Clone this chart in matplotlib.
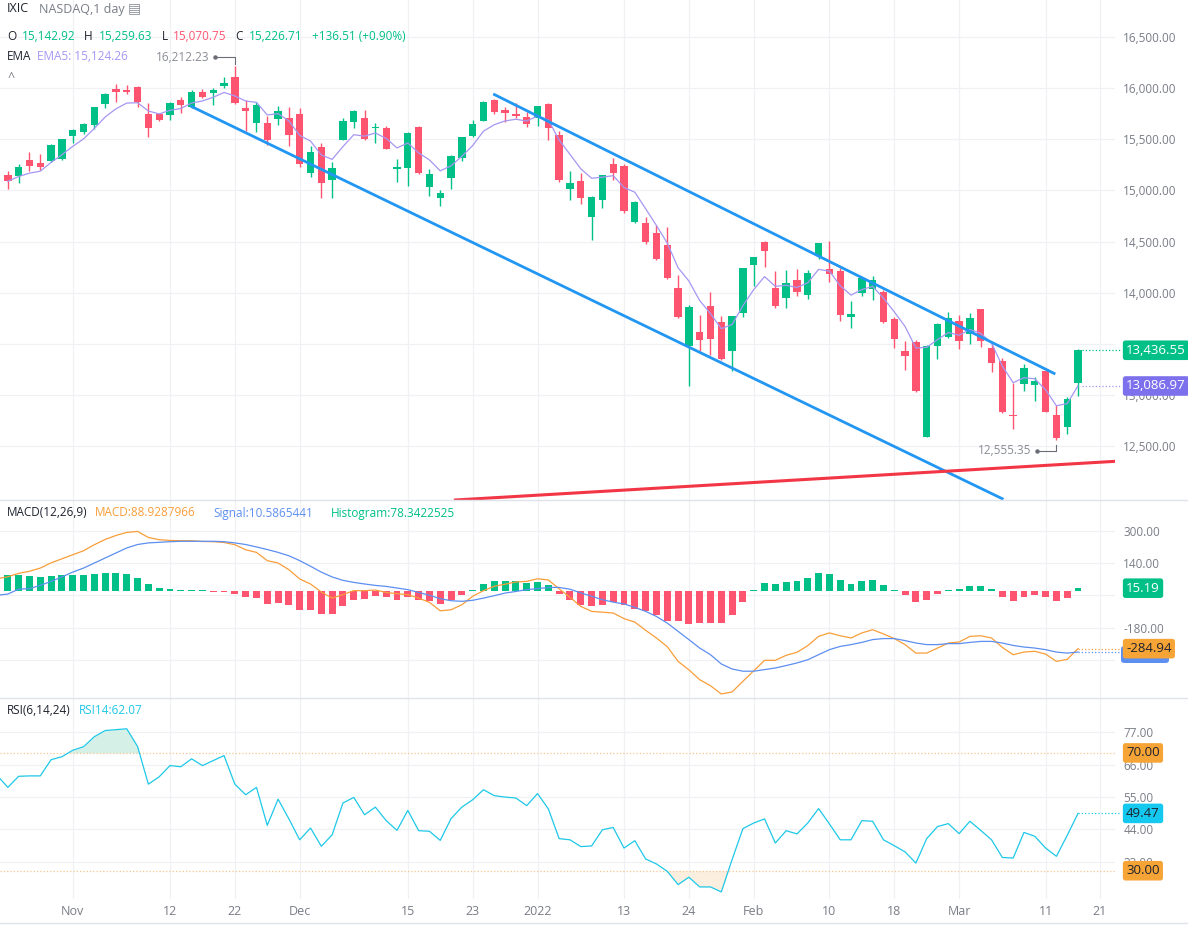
import numpy as np
import pandas as pd
import matplotlib
matplotlib.use("Agg")
import matplotlib.pyplot as plt
from matplotlib.lines import Line2D
from matplotlib.patches import FancyBboxPatch

plt.rcParams['font.family'] = ['Open Sans', 'DejaVu Sans']

# daily candles, one per trading day, Oct 22 2021 .. Mar 16 2022
opens = [15150, 15142.92, 15300, 15270, 15290, 15310, 15530, 15575, 15640, 15845,
         15990, 15985, 16010, 15745, 15745, 15737, 15884, 15818, 15962, 15955,
         16021, 16106, 15803, 15662, 15659, 15698, 15705, 15744, 15173, 15424,
         15101, 15493, 15666, 15708, 15607, 15607, 15206, 15222, 15620, 15030,
         14922, 15124, 15314, 15535, 15681, 15884, 15786, 15747, 15715, 15705,
         15842, 15542, 15013, 15092, 14743, 14906, 15258, 15241, 14694, 14684,
         14586, 14466, 14048, 13478, 13615, 13872, 13710, 13429, 13804, 14270,
         14495, 14045, 13950, 14123, 13977, 14358, 14228, 14211, 13765, 13993,
         14032, 14003, 13742, 13429, 13514, 12591, 13478, 13569, 13725, 13595,
         13840, 13461, 13331, 12803, 13106, 13097, 13233, 12803, 12689, 13119]
highs = [15185, 15259.63, 15375, 15355, 15450, 15500, 15600, 15655, 15820, 15955,
         16040, 16030, 16025, 15855, 15755, 15867, 15916, 15982, 15991, 16004,
         16112, 16212.23, 15884, 15867, 15727, 15828, 15818, 15808, 15434, 15460,
         15275, 15705, 15786, 15786, 15662, 15630, 15307, 15571, 15630, 15206,
         15004, 15346, 15525, 15688, 15871, 15890, 15813, 15852, 15769, 15825,
         15850, 15581, 15190, 15170, 14945, 15155, 15320, 15258, 14896, 14743,
         14661, 14642, 14172, 13879, 13781, 14009, 13771, 13775, 14244, 14351,
         14505, 14211, 14221, 14231, 14221, 14490, 14505, 14244, 13918, 14146,
         14163, 14026, 13759, 13527, 13537, 13485, 13706, 13808, 13781, 13801,
         13843, 13495, 13358, 13113, 13302, 13178, 13243, 12901, 12982, 13449]
lows = [15010, 15070.75, 15185, 15195, 15280, 15300, 15460, 15555, 15600, 15810,
        15860, 15945, 15820, 15525, 15678, 15688, 15760, 15808, 15900, 15838,
        16004, 15840, 15584, 15574, 15444, 15639, 15434, 15231, 15134, 14922,
        14922, 15490, 15607, 15493, 15466, 15400, 15085, 15046, 15157, 14948,
        14850, 15010, 15287, 15519, 15680, 15744, 15666, 15705, 15623, 15633,
        15493, 15080, 14906, 14870, 14515, 14831, 15101, 14776, 14684, 14475,
        14319, 14135, 13755, 13090, 13429, 13390, 13341, 13236, 13765, 14068,
        14254, 13847, 13847, 13967, 13935, 14326, 14107, 13725, 13657, 13970,
        13928, 13700, 13461, 13243, 13031, 12587, 13351, 13560, 13446, 13495,
        13471, 13227, 12823, 12666, 13041, 12943, 12830, 12555.35, 12617, 12992]
closes = [15090, 15226.71, 15235, 15225, 15445, 15498, 15595, 15649, 15811, 15940,
          15960, 15965, 15865, 15615, 15690, 15855, 15835, 15962, 15915, 15982,
          16053, 15854, 15775, 15835, 15491, 15776, 15537, 15254, 15372, 15075,
          15216, 15680, 15776, 15502, 15623, 15402, 15229, 15561, 15173, 15160,
          14977, 15339, 15519, 15649, 15861, 15769, 15754, 15727, 15645, 15825,
          15613, 15100, 15072, 14928, 14935, 15150, 15173, 14798, 14889, 14498,
          14329, 14140, 13762, 13855, 13539, 13542, 13352, 13770, 14240, 14346,
          14410, 13872, 14091, 14009, 14189, 14488, 14179, 13781, 13791, 14140,
          14123, 13716, 13544, 13383, 13038, 13478, 13690, 13749, 13530, 13752,
          13530, 13315, 12830, 12795, 13266, 13136, 12835, 12581, 12957, 13436.55]
ema_last = 13086.97

# header values for the hovered bar (Oct 25)
hover_change = 136.51
hover_change_pct = 0.90
hover_ema5 = 15124.26
hover_macd = 88.9287966
hover_signal = 10.5865441
hover_hist = 78.3422525
hover_rsi = 62.07

# indicator values, Oct 21 2021 .. Mar 16 2022 (first one sits just left of the view)
macd_vals = [62, 72, 88.93, 99, 115, 141, 161, 181, 201, 231, 257,
             277, 292, 297, 267, 256, 252, 251, 251, 247, 246,
             242, 231, 206, 193, 152, 140, 107, 61, 36, -4,
             -34, -17, 3, 3, 6, -6, -12, -17, -34, -55,
             -97, -92, -67, -25, 3, 25, 35, 46, 49, 62,
             56, 12, -30, -75, -100, -104, -108, -136, -153, -194,
             -232, -275, -348, -390, -439, -469, -510, -500, -447, -395,
             -343, -343, -318, -303, -270, -224, -207, -221, -232, -207,
             -191, -212, -235, -265, -307, -307, -282, -257, -252, -224,
             -221, -232, -279, -315, -302, -298, -312, -348, -338, -284.94]
signal_vals = [-20, -14, 10.59, 13, 29, 49, 71, 95, 115, 140, 165,
               190, 215, 232, 240, 243, 246, 248, 248, 248, 248,
               246, 240, 232, 220, 207, 193, 176, 152, 124, 95,
               71, 54, 44, 36, 29, 24, 16, 8, -6, -20,
               -37, -47, -50, -45, -34, -22, -9, -1, 8, 13,
               19, 19, 10, -8, -25, -42, -54, -63, -80, -100,
               -125, -158, -199, -240, -282, -315, -361, -386, -397, -397,
               -389, -381, -369, -356, -340, -315, -290, -274, -265, -254,
               -240, -235, -235, -245, -257, -265, -265, -260, -260, -254,
               -249, -249, -257, -269, -277, -282, -290, -302, -307, -302]
hist_vals = [82, 79, 78.34, 75, 70, 77, 79, 79, 79, 84, 90,
             89, 84, 65, 36, 16, 11, 8, 6, 6, -2,
             -3, -14, -29, -32, -62, -59, -68, -92, -95, -111,
             -111, -72, -42, -37, -25, -29, -42, -30, -44, -50,
             -62, -45, -19, 1, 36, 51, 51, 49, 39, 44,
             31, -14, -44, -70, -75, -67, -54, -67, -87, -100,
             -116, -146, -146, -161, -158, -158, -156, -116, -52, 6,
             41, 36, 47, 51, 66, 90, 85, 57, 36, 52,
             57, 31, 6, -17, -52, -42, -12, 6, 11, 26,
             26, 13, -29, -47, -29, -19, -29, -47, -34, 15.19]
rsi_vals = [62.4, 58.3, 62.07, 62.2, 62.2, 67.7, 68.7, 70.9, 72.1, 75.5, 77.6,
            77.9, 78.2, 72.2, 59.4, 61.9, 65.7, 65.3, 68.0, 65.7, 67.4,
            69.1, 59.4, 55.8, 58.3, 45.4, 54.3, 47.6, 40.5, 44.5, 38.3,
            42.2, 53.0, 54.9, 49.0, 51.6, 47.0, 43.7, 50.5, 43.6, 43.4,
            40.3, 47.7, 51.6, 54.1, 57.5, 55.5, 55.0, 54.7, 52.1, 56.2,
            51.0, 40.9, 40.5, 38.2, 38.4, 43.9, 44.7, 37.7, 40.2, 34.0,
            32.3, 29.8, 25.3, 27.8, 24.5, 24.5, 22.8, 33.8, 44.3, 46.2,
            47.6, 39.4, 43.6, 42.5, 46.2, 51.1, 45.9, 40.5, 40.5, 47.0,
            46.8, 40.5, 38.5, 36.4, 32.6, 40.9, 45.0, 46.0, 42.6, 46.8,
            43.7, 40.5, 34.5, 34.3, 43.0, 41.7, 37.7, 34.9, 42.0, 49.47]

# drawn trend lines (bar index, price)
upper_x, upper_y = [44.9, 96.9], [15943, 13204]
lower_x, lower_y = [16.9, 92.1], [15825, 11979]
red_x, red_y = [41.4, 102.4], [11972, 12350]

tick_pos = [6, 15, 21, 27, 37, 43, 49, 57, 63, 69, 76, 82, 88, 96, 101]
tick_labels = ['Nov', '12', '22', 'Dec', '15', '23', '2022', '13', '24',
               'Feb', '10', '18', 'Mar', '11', '21']
price_ticks = [12500, 13000, 13500, 14000, 14500, 15000, 15500, 16000, 16500]
price_hidden = [13500]          # covered by the last-price tag
macd_ticks = [300, 140, -20, -180, -340]
macd_hidden = [-20, -340]       # covered by the value tags
rsi_ticks = [77, 66, 55, 44, 33]

GREEN = '#00c087'
RED = '#ff5470'
DARK = '#1e222d'
GRAY = '#7a7d87'
GRID = '#f0f1f5'
EMA_C = '#a597f3'
MACD_C = '#f89e3a'
SIG_C = '#5d8ff0'
RSI_C = '#1ec8e8'
ORANGE = '#f7a436'

W, H = 1188, 927
RIGHT = 1115
fig = plt.figure(figsize=(W / 100, H / 100), dpi=100)


def rows(top, bottom):
    return [0, 1 - bottom / H, RIGHT / W, (bottom - top) / H]


ax = fig.add_axes(rows(0, 500))
axm = fig.add_axes(rows(500, 698), sharex=ax)
axr = fig.add_axes(rows(698, 899), sharex=ax)

for a in (ax, axm, axr):
    for s in a.spines.values():
        s.set_visible(False)
    a.yaxis.tick_right()
    a.tick_params(axis='both', length=0, labelsize=8.5, labelcolor=GRAY, pad=6)
    a.grid(True, color=GRID, lw=0.9, zorder=0)
    a.set_axisbelow(True)
ax.set_xlim(-0.725, 102.42)
ax.set_xticks(tick_pos)
ax.set_xticklabels(tick_labels)
ax.tick_params(labelbottom=False)
axm.tick_params(labelbottom=False)
axr.tick_params(axis='x', labelsize=9, pad=4)

# --- price panel ---
x = np.arange(len(closes))
o, h, l, c = (np.array(v, dtype=float) for v in (opens, highs, lows, closes))
col = np.where(c >= o, GREEN, RED)
ax.vlines(x, l, h, colors=col, lw=1.0, zorder=3)
ax.bar(x, np.maximum(np.abs(c - o), 10), bottom=np.minimum(o, c), width=0.68,
       color=col, lw=0, zorder=3)
ema = pd.Series(c).ewm(span=5, adjust=False).mean()
ax.plot(x, ema, color=EMA_C, lw=0.9, zorder=4)
ax.plot(upper_x, upper_y, color='#2196f3', lw=2.0, zorder=5, solid_capstyle='butt')
ax.plot(lower_x, lower_y, color='#2196f3', lw=2.0, zorder=5, solid_capstyle='butt')
ax.plot(red_x, red_y, color='#f23645', lw=2.2, zorder=5)
ax.set_ylim(11972, 16862)
ax.set_yticks(price_ticks)
ax.set_yticklabels(['' if v in price_hidden else f'{v:,.2f}' for v in price_ticks])

hi_i = int(np.argmax(h))
ax.plot([hi_i, hi_i, hi_i - 1.85], [h[hi_i] + 20, h[hi_i] + 90, h[hi_i] + 90],
        color='#6a6d78', lw=0.8, zorder=6)
ax.plot([hi_i - 1.85], [h[hi_i] + 90], 'o', ms=2.2, color='#6a6d78', zorder=6)
ax.text(hi_i - 2.4, h[hi_i] + 90, f'{h[hi_i]:,.2f}', ha='right', va='center',
        color='#8a8d96', fontsize=8.5)
lo_i = int(np.argmin(l))
ax.plot([lo_i, lo_i, lo_i - 1.75], [l[lo_i] - 45, l[lo_i] - 104, l[lo_i] - 104],
        color='#6a6d78', lw=0.8, zorder=6)
ax.plot([lo_i - 1.75], [l[lo_i] - 104], 'o', ms=2.2, color='#6a6d78', zorder=6)
ax.text(lo_i - 2.3, l[lo_i] - 104, f'{l[lo_i]:,.2f}', ha='right', va='center',
        color='#8a8d96', fontsize=8.5)


def tag(a, y, s, fc, tc='white', z=10):
    a.text(1.0100, y, s, transform=a.get_yaxis_transform(), ha='left', va='center',
           fontsize=9.5, color=tc, zorder=z, clip_on=False,
           bbox=dict(boxstyle='round,pad=0.25,rounding_size=0.2', fc=fc, ec='none'))


def lead(a, y, color, x0):
    a.plot([x0, 103.0], [y, y], ls=':', lw=0.9, color=color, clip_on=False, zorder=6)


lead(ax, c[-1], GREEN, x[-1] + 0.4)
lead(ax, ema_last, EMA_C, x[-1] + 0.4)
tag(ax, c[-1], f'{c[-1]:,.2f}', GREEN)
tag(ax, ema_last, f'{ema_last:,.2f}', '#7d70ec')

# --- MACD panel ---
xi = np.arange(-1, len(closes))
hv = np.array(hist_vals)
hv_draw = np.where(np.abs(hv) < 5, np.where(hv < 0, -5, 5), hv)
axm.bar(xi, hv_draw, width=0.64, color=np.where(hv >= 0, GREEN, RED), lw=0, zorder=3)
axm.plot(xi, macd_vals, color=MACD_C, lw=0.9, zorder=4)
axm.plot(xi, signal_vals, color=SIG_C, lw=0.9, zorder=4)
axm.set_ylim(-530, 453)
axm.set_yticks(macd_ticks)
axm.set_yticklabels(['' if v in macd_hidden else f'{v:.2f}' for v in macd_ticks])
lead(axm, macd_vals[-1], MACD_C, xi[-1])
lead(axm, signal_vals[-1], SIG_C, xi[-1])
tag(axm, hist_vals[-1], f'{hist_vals[-1]:.2f}', GREEN)
# signal tag sits behind the MACD tag, only its lower edge shows
axm.add_patch(FancyBboxPatch((1121 / W, 1 - 663 / H), 48 / W, 17 / H,
                             boxstyle='round,pad=0,rounding_size=0.003',
                             transform=fig.transFigure, fc=SIG_C, ec='none',
                             zorder=8, clip_on=False))
tag(axm, macd_vals[-1], f'{macd_vals[-1]:.2f}', ORANGE, tc=DARK, z=10)

# --- RSI panel ---
rv = np.array(rsi_vals)
axr.fill_between(xi, rv, 70, where=rv > 70, interpolate=True, color='#d5f0e7', lw=0, zorder=2)
axr.fill_between(xi, rv, 30, where=rv < 30, interpolate=True, color='#fdefdf', lw=0, zorder=2)
axr.axhline(70, color='#f4c58f', ls=':', lw=0.9, zorder=2)
axr.axhline(30, color='#f4c58f', ls=':', lw=0.9, zorder=2)
axr.plot(xi, rv, color=RSI_C, lw=0.9, zorder=4)
axr.set_ylim(20.4, 88.65)
axr.set_yticks(rsi_ticks)
axr.set_yticklabels([f'{v:.2f}' for v in rsi_ticks])
lead(axr, rv[-1], RSI_C, xi[-1])
tag(axr, 70, '70.00', ORANGE, tc=DARK)
tag(axr, 30, '30.00', ORANGE, tc=DARK)
tag(axr, rv[-1], f'{rv[-1]:.2f}', '#14c8f0', tc=DARK)

# panel separators
for yy in (500, 698, 923):
    fig.add_artist(Line2D([0, 1], [1 - yy / H] * 2, color='#e0e3eb', lw=1.0))


def ptext(px, py, s, color, size=8.5):
    fig.text(px / W, 1 - py / H, s, color=color, fontsize=size, ha='left', va='center')


# legends
ptext(7, 9, 'IXIC', DARK, 9)
ptext(39, 9, 'NASDAQ,1 day', GRAY, 9)
ptext(128, 9, '\u25a4', '#8a8d96', 10)
ptext(7, 36, 'O', DARK)
ptext(22, 36, f'{opens[1]:,.2f}', GREEN)
ptext(84, 36, 'H', DARK)
ptext(99, 36, f'{highs[1]:,.2f}', GREEN)
ptext(162, 36, 'L', DARK)
ptext(173, 36, f'{lows[1]:,.2f}', RED)
ptext(235, 36, 'C', DARK)
ptext(249, 36, f'{closes[1]:,.2f}', GREEN)
ptext(312, 36, f'+{hover_change:,.2f} (+{hover_change_pct:.2f}%)', GREEN)
ptext(7, 57, 'EMA', DARK)
ptext(37, 57, f'EMA5: {hover_ema5:,.2f}', EMA_C)
ptext(8, 77, '^', GRAY, 9)
ptext(7, 513, 'MACD(12,26,9)', DARK)
ptext(95, 513, f'MACD:{hover_macd}', MACD_C)
ptext(213, 513, f'Signal:{hover_signal}', SIG_C)
ptext(331, 513, f'Histogram:{hover_hist}', GREEN)
ptext(7, 710, 'RSI(6,14,24)', DARK)
ptext(79, 710, f'RSI14:{hover_rsi:.2f}', RSI_C)

fig.savefig('out.png', dpi=100)
